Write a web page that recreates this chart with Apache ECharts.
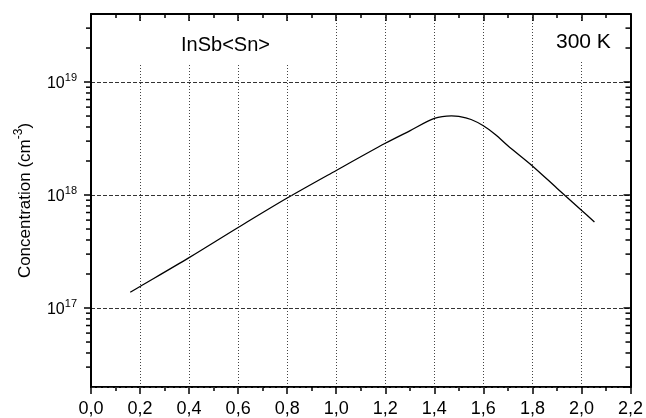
<!DOCTYPE html>
<html>
<head>
<meta charset="utf-8">
<script src="https://cdn.jsdelivr.net/npm/echarts@6/dist/echarts.min.js"></script>
<style>html,body{margin:0;padding:0;background:#fff}#c{width:646px;height:418px}</style>
</head>
<body>
<div id="c"></div>
<script>
// Data
var energy = [0.16, 0.2, 0.4, 0.6, 0.8, 1.0, 1.2, 1.3, 1.4, 1.47, 1.5, 1.55, 1.6, 1.65, 1.7, 1.8, 1.9, 2.0, 2.053];
var concentration = [1.38e17, 1.55e17, 2.79e17, 5.16e17, 9.4e17, 1.65e18, 2.87e18, 3.7e18, 4.76e18, 5.02e18, 4.97e18, 4.66e18, 4.1e18, 3.42e18, 2.73e18, 1.81e18, 1.15e18, 7.33e17, 5.78e17];
var minorTickValues = [3e16, 4e16, 5e16, 6e16, 7e16, 8e16, 9e16,
  2e17, 3e17, 4e17, 5e17, 6e17, 7e17, 8e17, 9e17,
  2e18, 3e18, 4e18, 5e18, 6e18, 7e18, 8e18, 9e18,
  2e19, 3e19];
var xMin = 0, xMax = 2.2, xStep = 0.2;
var yMin = 2e16, yMax = 4e19;

var FONT = 'Liberation Sans, Arial, sans-serif';
var chart = echarts.init(document.getElementById('c'), null, {renderer: 'canvas'});

var linePts = energy.map(function (x, i) { return [x, concentration[i]]; });
var minorPts = minorTickValues.map(function (v) { return [xMin, v]; });

var option = {
  animation: false,
  backgroundColor: '#fff',
  textStyle: {fontFamily: FONT},
  grid: {left: 91, right: 13, top: 14, bottom: 30},
  xAxis: [{
    type: 'value', min: xMin, max: xMax, interval: xStep, position: 'bottom', z: 0,
    axisLine: {show: true, onZero: false, lineStyle: {color: '#000', width: 2}},
    axisTick: {show: true, inside: false, length: 7, lineStyle: {color: '#000', width: 1.5}},
    minorTick: {show: true, splitNumber: 2, length: 4, lineStyle: {color: '#000', width: 1.5}},
    axisLabel: {margin: 13, fontSize: 18, color: '#000', fontFamily: FONT,
      formatter: function (v) { return v.toFixed(1).replace('.', ','); }},
    splitLine: {show: true, lineStyle: {color: '#444', width: 1, type: [1, 2]}}
  }, {
    type: 'value', min: xMin, max: xMax, interval: xStep, position: 'top', z: 3,
    axisLine: {show: true, onZero: false, lineStyle: {color: '#000', width: 2}},
    axisTick: {show: true, inside: true, length: 7, lineStyle: {color: '#000', width: 1.5}},
    minorTick: {show: true, splitNumber: 2, length: 4, lineStyle: {color: '#000', width: 1.5}},
    axisLabel: {show: false},
    splitLine: {show: false}
  }],
  yAxis: [{
    type: 'log', logBase: 10, min: yMin, max: yMax, position: 'left', z: 3,
    name: '{n|Concentration (cm}{s|-3}{n|)}',
    nameLocation: 'middle', nameGap: 57, nameRotate: 90,
    nameTextStyle: {color: '#000', fontFamily: FONT, fontSize: 17,
      rich: {n: {fontSize: 17, lineHeight: 21, verticalAlign: 'bottom', fontFamily: FONT, color: '#000'},
             s: {fontSize: 12, verticalAlign: 'top', fontFamily: FONT, color: '#000'}}},
    axisLine: {show: true, onZero: false, lineStyle: {color: '#000', width: 2}},
    axisTick: {show: true, inside: false, length: 7, lineStyle: {color: '#000', width: 1.5}},
    axisLabel: {margin: 14, color: '#000', showMinLabel: false, showMaxLabel: false,
      formatter: function (v) { var e = Math.round(Math.log10(v)); return '{b|10}{s|' + e + '}'; },
      rich: {b: {fontSize: 16, lineHeight: 20, verticalAlign: 'bottom', fontFamily: FONT, color: '#000'},
             s: {fontSize: 11, verticalAlign: 'top', fontFamily: FONT, color: '#000'}}},
    splitLine: {show: true, lineStyle: {color: '#333', width: 1, type: [4, 2]}}
  }, {
    type: 'log', logBase: 10, min: yMin, max: yMax, position: 'right', z: 3,
    axisLine: {show: true, onZero: false, lineStyle: {color: '#000', width: 2}},
    axisTick: {show: true, inside: true, length: 7, lineStyle: {color: '#000', width: 1.5}},
    axisLabel: {show: false},
    splitLine: {show: false}
  }],
  graphic: [
    {type: 'rect', z: 1, silent: true, shape: {x: 100, y: 21, width: 228, height: 43}, style: {fill: '#fff'}},
    {type: 'rect', z: 1, silent: true, shape: {x: 545, y: 21, width: 84, height: 41}, style: {fill: '#fff'}},
    {type: 'text', z: 5, silent: true, left: 181, top: 35,
      style: {text: 'InSb<Sn>', font: '20px ' + FONT, fill: '#000'}},
    {type: 'text', z: 5, silent: true, left: 556, top: 32,
      style: {text: '300 K', font: '21px ' + FONT, fill: '#000'}}
  ],
  series: [{
    type: 'line', xAxisIndex: 0, yAxisIndex: 0, data: linePts,
    showSymbol: false, smooth: 0.3, z: 2,
    lineStyle: {color: '#000', width: 1.3}
  }, {
    type: 'custom', xAxisIndex: 0, yAxisIndex: 0, data: minorPts, clip: false, silent: true, z: 4,
    renderItem: function (params, api) {
      var v = api.value(1);
      var p = api.coord([xMin, v]);
      var q = api.coord([xMax, v]);
      var st = {stroke: '#000', lineWidth: 1.5};
      return {type: 'group', children: [
        {type: 'line', shape: {x1: p[0] - 5, y1: p[1], x2: p[0], y2: p[1]}, style: st},
        {type: 'line', shape: {x1: q[0] - 5, y1: q[1], x2: q[0], y2: q[1]}, style: st}
      ]};
    }
  }]
};
chart.setOption(option);
</script>
</body>
</html>
